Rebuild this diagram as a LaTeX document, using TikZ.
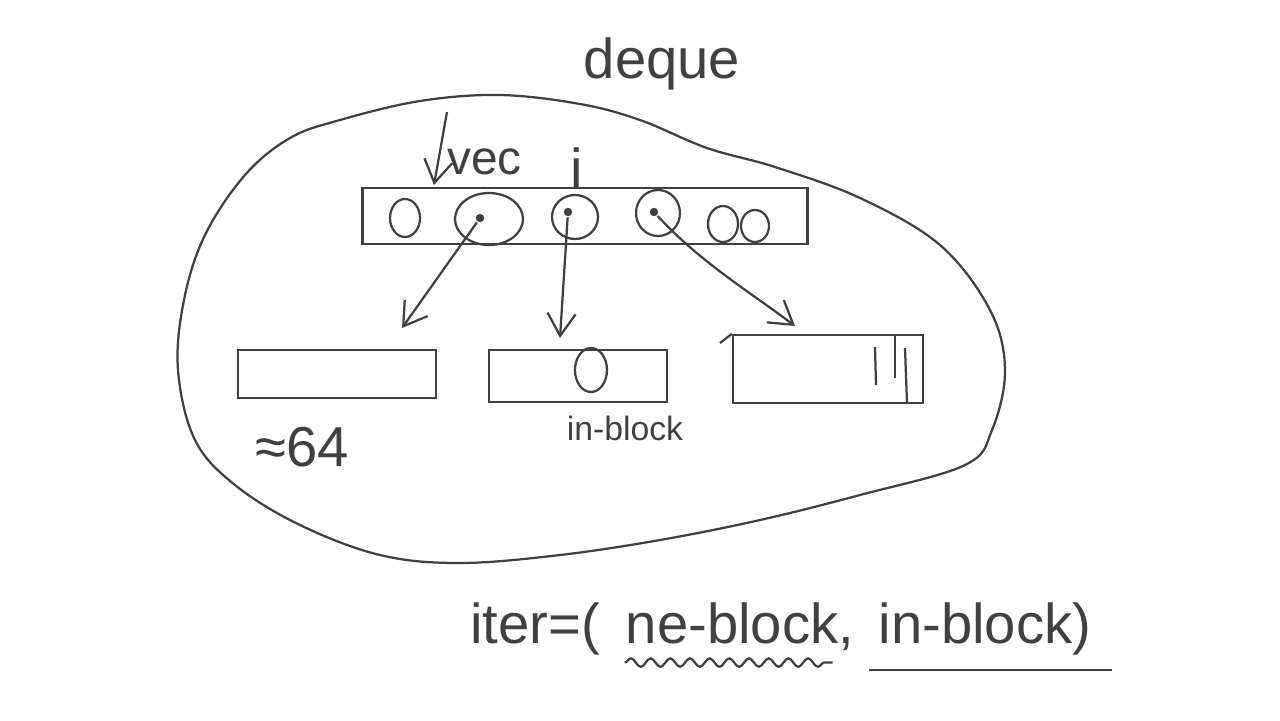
\documentclass[tikz,border=0pt]{standalone}
\usepackage{fontspec}
\setmainfont{Liberation Sans}
\usepackage{tikz}
\usetikzlibrary{arrows.meta,shapes.geometric,positioning,decorations.pathmorphing}
\newcommand{\pxl}{0.0125cm}

\begin{document}
\begin{tikzpicture}[x=\pxl, y=-\pxl, line width=0.8pt, color=black!75,
	box/.style={draw, rectangle, inner sep=0pt},
	ring/.style={draw, ellipse, inner sep=0pt},
	dot/.style={circle, fill, inner sep=0pt, minimum size=3pt},
	hand/.style={inner sep=0pt, font=\fontsize{20}{24}\selectfont},
	ptr/.style={-{Straight Barb[length=8pt, width=10pt]}}]
		\useasboundingbox (0,0) rectangle (1280,720);

		% the deque outline
		\draw plot[smooth cycle, tension=0.6] coordinates {
			(340,120) (420,101) (500,95) (580,104) (640,120) (707,148) (775,167)
			(860,198) (940,245) (990,310) (1005,370) (992,430) (965,465)
			(860,495) (760,520) (660,540) (560,555) (460,563) (380,555)
			(300,525) (235,485) (195,440) (178,370) (184,300) (205,235)
			(245,175) (290,138)};
		\node[hand, anchor=base] (title) at (662,78) {deque};

		% the vec of block pointers
		\node[box, minimum width=445*\pxl, minimum height=56*\pxl] (vec) at (585,216) {};
		\node[ring, minimum width=30*\pxl, minimum height=38*\pxl] (z1) at (405,218) {};
		\node[ring, minimum width=68*\pxl, minimum height=52*\pxl] (c1) at (489,219) {};
		\node[ring, minimum width=46*\pxl, minimum height=44*\pxl] (c2) at (575,217) {};
		\node[ring, minimum width=44*\pxl, minimum height=46*\pxl] (c3) at (658,213) {};
		\node[ring, minimum width=30*\pxl, minimum height=36*\pxl] (z2) at (723,224) {};
		\node[ring, minimum width=28*\pxl, minimum height=32*\pxl] (z3) at (755,226) {};
		\node[dot] (p1) at (480,218) {};
		\node[dot] (p2) at (568,212) {};
		\node[dot] (p3) at (654,212) {};

		\coordinate (vtop) at (447,112);
		\coordinate (vend) at (434,185);
		\draw[ptr] (vtop) -- (vend);
		\node[hand, font=\fontsize{17}{20}\selectfont, anchor=base west] (veclbl) at (446,174) {vec};
		\node[hand, anchor=base] (ilbl) at (577,188) {i};

		% the blocks
		\node[box, minimum width=198*\pxl, minimum height=48*\pxl] (blkA) at (337,374) {};
		\node[box, minimum width=178*\pxl, minimum height=52*\pxl] (blkB) at (578,376) {};
		\node[box, minimum width=190*\pxl, minimum height=68*\pxl] (blkC) at (828,369) {};
		\node[ring, minimum width=32*\pxl, minimum height=44*\pxl] (cur) at (591,370) {};
		\coordinate (cstub) at (720,343);
		\draw (blkC.north west) -- (cstub);
		\draw (875,347) -- (876,385);
		\draw (895,336) -- (895,378);
		\draw (905,348) -- (907,403);

		\coordinate (tA) at (402,328);
		\coordinate (tB) at (560,338);
		\coordinate (tC) at (795,326);
		\draw[ptr] (p1) -- (tA);
		\draw[ptr] (p2) -- (tB);
		\draw[ptr] (p3) .. controls (700,262) and (750,292) .. (tC);

		\node[hand] (size) at (302,447) {≈64};
		\node[hand, font=\fontsize{12}{14}\selectfont] (inlbl) at (625,428) {in-block};

		% the iterator
		\node[hand, anchor=base] (iter) at (535,643) {iter=(};
		\node[hand, anchor=base] (nb) at (740,643) {ne-block,};
		\node[hand, anchor=base] (ib) at (985,643) {in-block)};
		\draw[decorate, decoration={snake, amplitude=1.5pt, segment length=7pt}]
			([yshift=-4pt]nb.south west) -- ([yshift=-4pt,xshift=-8pt]nb.south east);
		\draw ([yshift=-5pt,xshift=-3pt]ib.south west) -- ([yshift=-5pt,xshift=7pt]ib.south east);
	\end{tikzpicture}
\end{document}
